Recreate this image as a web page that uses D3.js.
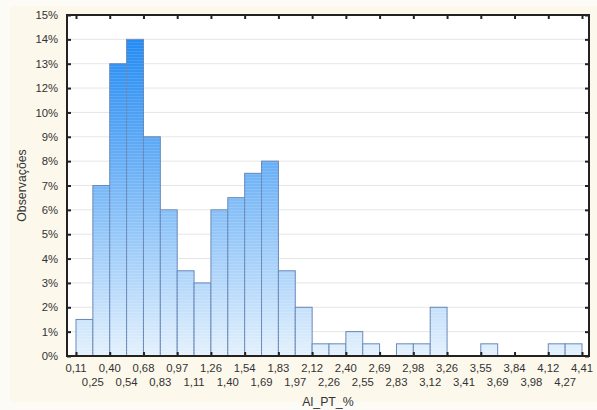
<!DOCTYPE html>
<html>
<head>
<meta charset="utf-8">
<script src="https://cdn.jsdelivr.net/npm/d3@7"></script>
<style>
  html, body { margin: 0; padding: 0; background: #fdfbf6; }
  svg { display: block; font-family: "Liberation Sans", Arial, sans-serif; }
</style>
</head>
<body>
<svg id="chart" width="597" height="410"></svg>
<script>
// ---- data ----
const binEdges = ["0,11","0,25","0,40","0,54","0,68","0,83","0,97","1,11","1,26","1,40",
  "1,54","1,69","1,83","1,97","2,12","2,26","2,40","2,55","2,69","2,83","2,98","3,12",
  "3,26","3,41","3,55","3,69","3,84","3,98","4,12","4,27","4,41"];
const observations = [1.5, 7, 13, 14, 9, 6, 3.5, 3, 6, 6.5, 7.5, 8, 3.5, 2, 0.5, 0.5, 1, 0.5,
  0, 0.5, 0.5, 2, 0, 0, 0.5, 0, 0, 0, 0.5, 0.5];
const yTickValues = [0, 1, 2, 3, 4, 5, 6, 7, 8, 9, 10, 12, 13, 14, 15];
const yTickLabels = ["0%","1%","2%","3%","4%","5%","6%","7%","8%","9%","10%","12%","13%","14%","15%"];
const xTitle = "Al_PT_%";
const yTitle = "Observações";

// ---- layout ----
const svg = d3.select("#chart");
const plot = { left: 67, right: 589, top: 15, bottom: 356 };
const xFirst = 76, xLast = 582;

svg.append("rect").attr("x", 10).attr("y", 6).attr("width", 587).attr("height", 396)
  .attr("fill", "#fcf8ec");

const x = d3.scalePoint().domain(binEdges).range([xFirst, xLast]);
const step = (plot.bottom - plot.top) / (yTickValues.length - 1);
const y = d3.scaleLinear()
  .domain(yTickValues)
  .range(yTickValues.map((v, i) => plot.bottom - i * step));

const defs = svg.append("defs");
const grad = defs.append("linearGradient").attr("id", "barGrad")
  .attr("gradientUnits", "userSpaceOnUse")
  .attr("x1", 0).attr("x2", 0).attr("y1", plot.top).attr("y2", plot.bottom);
grad.append("stop").attr("offset", "0%").attr("stop-color", "#1684f2");
grad.append("stop").attr("offset", "45%").attr("stop-color", "#6cb1f6");
grad.append("stop").attr("offset", "100%").attr("stop-color", "#e4f1fd");

const pat = defs.append("pattern").attr("id", "stripes")
  .attr("patternUnits", "userSpaceOnUse").attr("width", 4).attr("height", 3);
pat.append("rect").attr("width", 4).attr("height", 1).attr("fill", "#ffffff").attr("opacity", 0.12);

// plot background
svg.append("rect").attr("x", plot.left).attr("y", plot.top)
  .attr("width", plot.right - plot.left).attr("height", plot.bottom - plot.top)
  .attr("fill", "#ffffff");

// gridlines
svg.append("g").selectAll("line").data(yTickValues).join("line")
  .attr("x1", plot.left).attr("x2", plot.right)
  .attr("y1", d => y(d)).attr("y2", d => y(d))
  .attr("stroke", "#e6e6e6").attr("stroke-width", 1);

// bars
const bins = observations.map((v, i) => ({ x0: binEdges[i], x1: binEdges[i + 1], v }));
const barG = svg.append("g");
barG.selectAll("rect.bar").data(bins.filter(d => d.v > 0)).join("rect")
  .attr("class", "bar")
  .attr("x", d => x(d.x0)).attr("width", d => x(d.x1) - x(d.x0))
  .attr("y", d => y(d.v)).attr("height", d => y(0) - y(d.v))
  .attr("fill", "url(#barGrad)")
  .attr("stroke", "#6787b8").attr("stroke-width", 1);
barG.selectAll("rect.stripe").data(bins.filter(d => d.v > 0)).join("rect")
  .attr("class", "stripe")
  .attr("x", d => x(d.x0)).attr("width", d => x(d.x1) - x(d.x0))
  .attr("y", d => y(d.v)).attr("height", d => y(0) - y(d.v))
  .attr("fill", "url(#stripes)");

// frame
svg.append("rect").attr("x", plot.left).attr("y", plot.top)
  .attr("width", plot.right - plot.left).attr("height", plot.bottom - plot.top)
  .attr("fill", "none").attr("stroke", "#222").attr("stroke-width", 2);

// axes
const tickEdges = binEdges.filter((d, i) => i % 2 === 0);
const xAxisBottom = d3.axisBottom(x).tickValues(tickEdges).tickSize(-4).tickFormat("");
svg.append("g").attr("transform", `translate(0,${plot.bottom})`).call(xAxisBottom)
  .call(g => g.select(".domain").remove())
  .call(g => g.selectAll(".tick line").attr("stroke", "#222").attr("stroke-width", 2));
const xAxisTop = d3.axisTop(x).tickValues(tickEdges).tickSize(-4).tickFormat("");
svg.append("g").attr("transform", `translate(0,${plot.top})`).call(xAxisTop)
  .call(g => g.select(".domain").remove())
  .call(g => g.selectAll(".tick line").attr("stroke", "#222").attr("stroke-width", 2));

// x labels in two rows
const xl = svg.append("g").attr("font-size", 11.3).attr("fill", "#333");
xl.selectAll("text").data(binEdges).join("text")
  .attr("x", d => x(d))
  .attr("y", (d, i) => i % 2 === 0 ? 372 : 386)
  .attr("text-anchor", "middle")
  .attr("fill", "#333")
  .text(d => d);

const yAxisLeft = d3.axisLeft(y).tickValues(yTickValues).tickSize(-4)
  .tickPadding(9).tickFormat((d, i) => yTickLabels[i]);
svg.append("g").attr("transform", `translate(${plot.left},0)`).call(yAxisLeft)
  .call(g => g.select(".domain").remove())
  .call(g => g.selectAll(".tick line").attr("stroke", "#222").attr("stroke-width", 2))
  .call(g => g.selectAll(".tick text").attr("font-size", 11.3).attr("fill", "#333")
    .attr("font-family", "Liberation Sans, Arial, sans-serif"));
const yAxisRight = d3.axisRight(y).tickValues(yTickValues).tickSize(-4).tickFormat("");
svg.append("g").attr("transform", `translate(${plot.right},0)`).call(yAxisRight)
  .call(g => g.select(".domain").remove())
  .call(g => g.selectAll(".tick line").attr("stroke", "#222").attr("stroke-width", 2));

// titles
svg.append("text").attr("x", (plot.left + plot.right) / 2).attr("y", 406)
  .attr("text-anchor", "middle").attr("font-size", 12.3).attr("fill", "#333").text(xTitle);
svg.append("text")
  .attr("transform", `translate(26,${(plot.top + plot.bottom) / 2}) rotate(-90)`)
  .attr("text-anchor", "middle").attr("font-size", 12.3).attr("fill", "#333").text(yTitle);
</script>
</body>
</html>
